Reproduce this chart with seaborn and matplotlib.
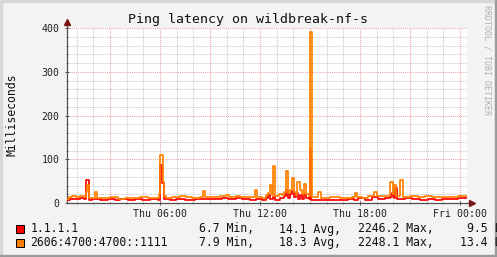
import matplotlib
matplotlib.use("Agg")
import matplotlib.pyplot as plt
from matplotlib.patches import Rectangle
from matplotlib.ticker import MultipleLocator
import seaborn as sns
import numpy as np

# ---- data (hours since Thu 00:00, latency in ms) ----
red_hours = [0.42, 0.60, 0.90, 1.20, 1.44, 1.56, 1.74, 1.92, 2.40, 2.88, 3.30, 3.60, 4.08,
             4.50, 4.92, 5.40, 5.88, 6.00, 6.12, 6.24, 6.60, 6.96, 7.50, 8.10, 8.58, 8.70,
             9.30, 9.72, 10.08, 10.56, 10.92, 11.40, 11.76, 12.12, 12.36, 12.48, 12.60,
             12.78, 12.90, 13.20, 13.44, 13.56, 13.68, 13.80, 13.92, 14.04, 14.16, 14.28,
             14.40, 14.52, 14.64, 14.76, 14.94, 15.00, 15.06, 15.18, 15.60, 16.20, 16.80,
             17.28, 17.64, 17.88, 18.30, 18.72, 19.08, 19.50, 19.80, 19.92, 20.04, 20.10,
             20.22, 20.40, 20.70, 21.12, 21.60, 22.08, 22.50, 22.92, 23.40, 23.88, 24.42]
red_ms = [8, 10, 9, 11, 9, 53, 8, 9, 8, 9, 7, 9, 8,
          10, 8, 9, 8, 87, 45, 9, 7, 9, 8, 9, 10, 9,
          10, 11, 9, 11, 9, 8, 9, 8, 12, 18, 10,
          14, 8, 11, 15, 30, 12, 20, 28, 14, 22, 10,
          18, 9, 20, 12, 10, 123, 8, 7, 8, 7, 8,
          9, 8, 11, 8, 13, 10, 11, 14, 22, 12, 35,
          10, 9, 11, 9, 8, 9, 7, 10, 9, 11, 11]

orange_hours = [0.42, 0.54, 0.72, 0.96, 1.20, 1.44, 1.56, 1.62, 1.74, 1.80, 2.10, 2.22,
                2.58, 3.00, 3.48, 3.90, 4.32, 4.80, 5.28, 5.70, 5.94, 6.00, 6.18, 6.24,
                6.36, 6.72, 7.20, 7.56, 7.92, 8.40, 8.58, 8.70, 9.12, 9.60, 9.96, 10.14,
                10.56, 10.80, 11.28, 11.70, 11.82, 12.12, 12.36, 12.48, 12.60, 12.72,
                12.78, 12.90, 13.14, 13.32, 13.44, 13.56, 13.68, 13.80, 13.92, 14.04,
                14.16, 14.22, 14.40, 14.52, 14.64, 14.76, 14.94, 15.00, 15.09, 15.36,
                15.48, 15.66, 16.20, 16.80, 17.10, 17.52, 17.70, 17.82, 18.12, 18.48,
                18.84, 19.02, 19.38, 19.80, 19.98, 20.04, 20.16, 20.40, 20.58, 21.00,
                21.48, 21.90, 22.32, 22.80, 23.40, 23.88, 24.42]
orange_ms = [10, 14, 17, 13, 16, 14, 25, 41, 12, 11, 25, 12,
             11, 13, 10, 12, 11, 13, 11, 12, 20, 110, 49, 15,
             11, 13, 16, 13, 12, 13, 28, 14, 13, 15, 19, 14,
             17, 14, 13, 30, 13, 12, 18, 24, 41, 18,
             85, 15, 20, 18, 26, 74, 22, 30, 57, 25,
             18, 48, 30, 20, 43, 20, 16, 390, 14, 13,
             25, 12, 13, 12, 11, 14, 23, 14, 12, 15,
             26, 15, 17, 49, 20, 41, 15, 53, 14, 15,
             13, 16, 13, 14, 14, 15, 15]

series_names = ["1.1.1.1", "2606:4700:4700::1111"]
series_colors = ["#ff0000", "#ff8000"]
stats_min = ["6.7", "7.9"]
stats_avg = ["14.1", "18.3"]
stats_max = ["2246.2", "2248.1"]
stats_last = ["9.5", "13.4"]
x_tick_hours = [6, 12, 18, 24]
x_tick_labels = ["Thu 06:00", "Thu 12:00", "Thu 18:00", "Fri 00:00"]
y_ticks = [0, 100, 200, 300, 400]

# ---- figure ----
W, H = 497, 257
mono = "DejaVu Sans Mono"
plt.rcParams["font.family"] = mono
fig = plt.figure(figsize=(W / 100, H / 100), dpi=100)
fig.patch.set_facecolor("#f3f3f3")

def fx(px):
    return px / W

def fy(py):
    return 1 - py / H

# 3D-ish frame
fig.patches.append(Rectangle((0, fy(2)), 1, 2 / H, transform=fig.transFigure, color="#d8d8d8", zorder=0))
fig.patches.append(Rectangle((0, 0), 2 / W, 1, transform=fig.transFigure, color="#d8d8d8", zorder=0))
fig.patches.append(Rectangle((0, 0), 1, 2 / H, transform=fig.transFigure, color="#9a9a9a", zorder=0))
fig.patches.append(Rectangle((1 - 2 / W, 0), 2 / W, 1, transform=fig.transFigure, color="#9a9a9a", zorder=0))

x0, x1, ytop, ybot = 67, 467, 28, 203
ax = fig.add_axes([fx(x0), fy(ybot), (x1 - x0) / W, (ybot - ytop) / H])
ax.set_facecolor("white")

sns.lineplot(x=red_hours, y=red_ms, ax=ax, color=series_colors[0], drawstyle="steps-post",
             estimator=None, linewidth=1.25, zorder=3)
sns.lineplot(x=orange_hours, y=orange_ms, ax=ax, color=series_colors[1], drawstyle="steps-post",
             estimator=None, linewidth=1.25, zorder=4)

ax.set_xlim(0.42, 24.42)
ax.set_ylim(0, 400)

# grid
ax.xaxis.set_minor_locator(MultipleLocator(1))
ax.yaxis.set_minor_locator(MultipleLocator(20))
ax.set_xticks(x_tick_hours)
ax.set_xticklabels(x_tick_labels)
ax.set_yticks(y_ticks)
ax.set_yticklabels([str(v) for v in y_ticks])
for h in np.arange(1, 25, 1):
    if h % 3:
        ax.axvline(h, color="#c8c8c8", lw=0.75, ls=(0, (1, 1)), zorder=1)
for v in range(20, 400, 20):
    if v % 100:
        ax.axhline(v, color="#c8c8c8", lw=0.75, ls=(0, (1, 1)), zorder=1)
for h in range(3, 25, 3):
    ax.axvline(h, color="#f0a0a0", lw=0.75, ls=(0, (1, 1)), zorder=1.5)
for v in range(100, 401, 100):
    ax.axhline(v, color="#f0a0a0", lw=0.75, ls=(0, (1, 1)), zorder=1.5)

for s in ["top", "right"]:
    ax.spines[s].set_visible(False)
for s in ["left", "bottom"]:
    ax.spines[s].set_color("#505050")
    ax.spines[s].set_linewidth(0.9)
ax.spines["left"].set_bounds(0, 400 + 6 * 400 / 175)
ax.spines["bottom"].set_bounds(0.42, 24.42 + 5 * 0.06)
ax.tick_params(axis="both", which="major", length=2.5, width=0.7, color="#505050",
               direction="inout", labelsize=7.1, labelcolor="#202020")
ax.tick_params(axis="both", which="minor", length=2, width=0.6, color="#808080", direction="inout")
ax.tick_params(axis="y", pad=4)
ax.tick_params(axis="x", pad=3)

# arrows
ax.plot([0.42], [400 + 6 * 400 / 175], marker="^", color="#7a1515", markersize=4.5,
        clip_on=False, zorder=6)
ax.plot([24.42 + 5 * 0.06], [0], marker=">", color="#7a1515", markersize=4.5,
        clip_on=False, zorder=6)

# title & labels
fig.text(fx(248.5), fy(19), "Ping latency on wildbreak-nf-s", ha="center", va="center",
         fontsize=9.5, color="#101010")
fig.text(fx(12), fy(115), "Milliseconds", rotation=90, ha="center", va="center",
         fontsize=8.3, color="#101010")
fig.text(fx(487), fy(60), "RRDTOOL / TOBI OETIKER", rotation=270, ha="center", va="center",
         fontsize=6.0, color="#b0b0b0")

# legend
rows_y = [229, 242.5]
for i in range(2):
    y = rows_y[i]
    fig.patches.append(Rectangle((fx(16), fy(y + 4)), 8 / W, 8 / H, transform=fig.transFigure,
                                 facecolor=series_colors[i], edgecolor="black", lw=0.7))
    fig.text(fx(30.5), fy(y), series_names[i], ha="left", va="center", fontsize=8.3, color="#101010")
    fig.text(fx(199), fy(y), f"{stats_min[i]} Min,", ha="left", va="center", fontsize=8.3,
             color="#101010")
    fig.text(fx(279.3), fy(y), f"{stats_avg[i]} Avg,", ha="left", va="center", fontsize=8.3, color="#101010")
    fig.text(fx(358.3), fy(y), f"{stats_max[i]} Max,", ha="left", va="center", fontsize=8.3, color="#101010")
    fig.text(fx(521.6), fy(y), f"{stats_last[i]} Last", ha="right", va="center", fontsize=8.3,
             color="#101010")

fig.savefig("out.png", dpi=100, facecolor=fig.get_facecolor())
